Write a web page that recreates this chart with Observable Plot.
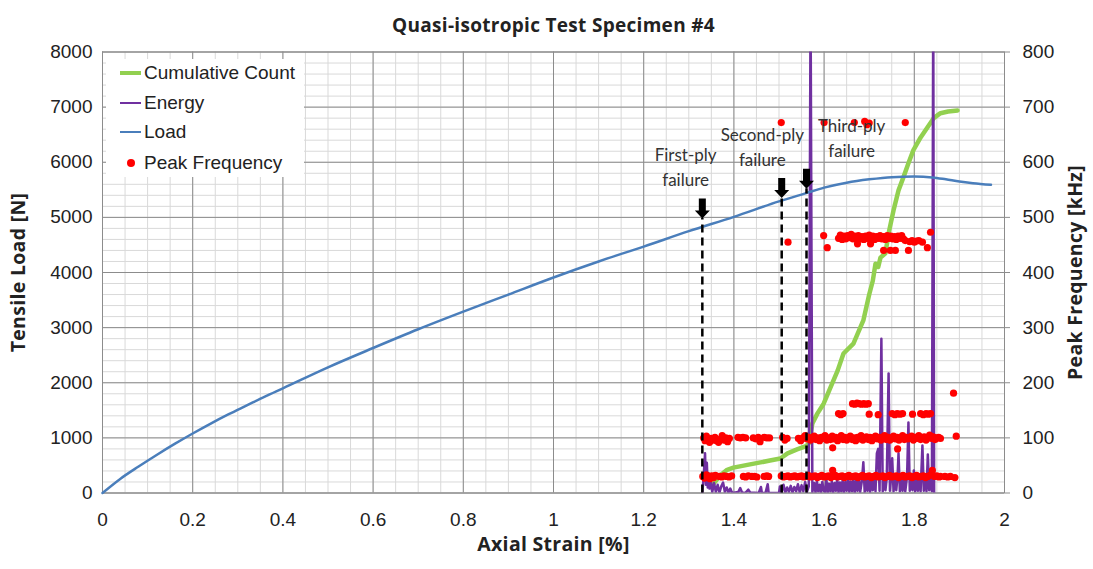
<!DOCTYPE html>
<html><head><meta charset="utf-8">
<script src="https://cdn.jsdelivr.net/npm/d3@7"></script>
<script src="https://cdn.jsdelivr.net/npm/@observablehq/plot@0.6"></script>
<style>
body{margin:0;background:#fff;}
#wrap{position:relative;width:1093px;height:569px;}
#legend{position:absolute;left:106px;top:59px;width:198px;height:118px;background:#fff;font-family:"Liberation Sans",Arial,sans-serif;font-size:19px;color:#222;}
.row{position:absolute;left:0;height:24px;display:flex;align-items:center;white-space:nowrap;}
.sw{width:21px;margin-left:14px;margin-right:3px;position:relative;height:24px;}
.ln{position:absolute;left:0;right:0;top:50%;}
.dt{position:absolute;left:7px;top:50%;width:8px;height:8px;margin-top:-4px;border-radius:50%;background:#ff0000;}
</style>
</head><body>
<div id="wrap"><div id="chart"></div>
<div id="legend"></div></div>
<script>
const title = "Quasi-isotropic Test Specimen #4";
const xLabel = "Axial Strain [%]";
const yLabel = "Tensile Load [N]";
const y2Label = "Peak Frequency [kHz]";
const strainTicks = [0, 0.2, 0.4, 0.6, 0.8, 1, 1.2, 1.4, 1.6, 1.8, 2];
const loadTicks = [0, 1000, 2000, 3000, 4000, 5000, 6000, 7000, 8000];
const freqTicks = [0, 100, 200, 300, 400, 500, 600, 700, 800];

// Load [N] vs strain
const loadCurve = [[0,0],[0.04,260],[0.08,480],[0.12,690],[0.16,890],[0.2,1080],[0.24,1260],[0.28,1430],[0.32,1590],[0.36,1750],[0.4,1900],[0.5,2280],[0.6,2630],[0.7,2970],[0.8,3290],[0.9,3600],[1.0,3910],[1.1,4200],[1.2,4470],[1.3,4750],[1.4,5010],[1.5,5290],[1.56,5440],[1.6,5540],[1.65,5630],[1.7,5690],[1.75,5730],[1.8,5740],[1.84,5725],[1.87,5690],[1.9,5650],[1.93,5620],[1.97,5590]];

// Cumulative count (drawn in load units)
const cumulative = [[1.352,130],[1.355,170],[1.37,320],[1.385,420],[1.399,460],[1.43,510],[1.459,555],[1.48,590],[1.503,625],[1.519,720],[1.54,790],[1.56,850],[1.566,900],[1.574,1260],[1.585,1440],[1.599,1620],[1.614,1910],[1.63,2220],[1.643,2530],[1.665,2710],[1.687,3130],[1.70,3600],[1.708,3850],[1.714,4160],[1.72,4100],[1.725,4270],[1.736,4350],[1.743,4710],[1.754,5130],[1.765,5490],[1.776,5730],[1.787,5980],[1.798,6220],[1.814,6450],[1.829,6630],[1.843,6800],[1.858,6890],[1.875,6920],[1.896,6940]];

// Energy (drawn in load units)
const energy = [[1.330,0],[1.333,300],[1.336,720],[1.338,150],[1.340,550],[1.342,100],[1.344,360],[1.346,80],[1.349,200],[1.352,20],[1.356,180],[1.360,20],[1.364,150],[1.368,10],[1.372,120],[1.376,190],[1.380,20],[1.384,100],[1.388,10],[1.392,80],[1.396,0],[1.410,20],[1.414,90],[1.418,10],[1.425,0],[1.432,60],[1.436,10],[1.455,0],[1.460,110],[1.462,0],[1.470,0],[1.475,160],[1.477,0],[1.500,0],[1.502,120],[1.506,20],[1.510,150],[1.514,10],[1.518,100],[1.522,20],[1.526,130],[1.530,10],[1.534,110],[1.538,30],[1.542,160],[1.546,10],[1.550,140],[1.554,30],[1.558,200],[1.562,20],[1.566,120],[1.570,9000],[1.574,20],[1.578,180],[1.581,10],[1.584,220],[1.587,30],[1.590,150],[1.593,10],[1.596,200],[1.599,40],[1.602,20],[1.605,250],[1.608,10],[1.611,170],[1.614,30],[1.617,210],[1.620,10],[1.623,180],[1.626,40],[1.629,260],[1.632,10],[1.635,190],[1.638,30],[1.641,230],[1.644,10],[1.647,200],[1.650,40],[1.653,270],[1.656,20],[1.659,210],[1.662,30],[1.665,250],[1.668,10],[1.671,220],[1.674,40],[1.677,280],[1.680,20],[1.684,230],[1.687,560],[1.690,20],[1.693,260],[1.696,40],[1.699,300],[1.702,20],[1.705,270],[1.708,50],[1.711,320],[1.714,30],[1.717,720],[1.720,800],[1.723,40],[1.727,2800],[1.730,30],[1.733,300],[1.736,50],[1.739,280],[1.743,2170],[1.746,40],[1.749,330],[1.751,630],[1.754,30],[1.757,300],[1.760,50],[1.763,320],[1.765,720],[1.768,30],[1.771,300],[1.774,40],[1.777,340],[1.780,30],[1.784,300],[1.787,1280],[1.790,40],[1.793,310],[1.796,50],[1.799,410],[1.802,30],[1.805,300],[1.808,40],[1.811,330],[1.814,30],[1.818,860],[1.821,40],[1.824,330],[1.827,30],[1.830,700],[1.833,50],[1.836,260],[1.839,30],[1.842,9000],[1.844,0]];

// Peak frequency [kHz]
const freqBand100 = [[1.333,100],[1.336,95],[1.339,103],[1.342,97],[1.346,92],[1.350,99],[1.354,96],[1.358,101],[1.362,95],[1.366,92],[1.370,98],[1.374,104],[1.378,96],[1.382,100],[1.386,93],[1.390,99],[1.409,101],[1.414,100],[1.420,101],[1.426,100],[1.443,100],[1.449,98],[1.454,101],[1.458,93],[1.467,101],[1.473,100],[1.479,100],[1.508,101],[1.513,96],[1.518,99],[1.543,99],[1.548,95],[1.553,100],[1.558,104],[1.562,98],[1.566,101],[1.570,96],[1.574,100],[1.578,103],[1.582,97],[1.586,100],[1.590,95],[1.594,101],[1.598,99],[1.602,104],[1.606,96],[1.610,100],[1.614,97],[1.618,103],[1.619,82],[1.622,98],[1.626,101],[1.630,95],[1.634,100],[1.638,104],[1.642,97],[1.646,101],[1.650,96],[1.654,100],[1.658,103],[1.662,97],[1.666,100],[1.670,95],[1.674,101],[1.678,98],[1.682,104],[1.686,96],[1.690,100],[1.694,102],[1.698,97],[1.702,101],[1.706,95],[1.710,100],[1.714,103],[1.718,98],[1.722,101],[1.726,96],[1.730,100],[1.734,104],[1.738,97],[1.742,101],[1.746,96],[1.750,100],[1.754,103],[1.758,98],[1.762,101],[1.763,80],[1.766,96],[1.770,100],[1.774,104],[1.778,97],[1.782,101],[1.786,98],[1.790,100],[1.794,103],[1.798,96],[1.802,101],[1.806,99],[1.810,104],[1.814,97],[1.818,100],[1.822,102],[1.826,96],[1.830,101],[1.834,105],[1.838,99],[1.842,102],[1.846,97],[1.850,100],[1.854,101],[1.858,99],[1.893,103]];
const freqBand30 = [[1.331,30],[1.335,27],[1.339,33],[1.343,29],[1.347,26],[1.351,31],[1.355,28],[1.359,32],[1.368,30],[1.373,29],[1.378,31],[1.384,30],[1.389,29],[1.395,31],[1.421,30],[1.426,29],[1.432,31],[1.440,30],[1.446,30],[1.451,29],[1.467,30],[1.473,31],[1.477,30],[1.505,31],[1.510,29],[1.515,30],[1.520,31],[1.525,29],[1.530,30],[1.535,31],[1.540,29],[1.545,30],[1.550,31],[1.555,29],[1.560,30],[1.565,32],[1.570,29],[1.575,30],[1.580,31],[1.585,28],[1.590,30],[1.595,32],[1.600,29],[1.605,30],[1.610,31],[1.615,28],[1.619,41],[1.620,30],[1.625,32],[1.630,29],[1.635,30],[1.640,31],[1.645,28],[1.650,30],[1.655,32],[1.660,29],[1.665,30],[1.670,31],[1.675,28],[1.680,30],[1.685,32],[1.690,29],[1.695,30],[1.700,31],[1.705,28],[1.710,30],[1.715,32],[1.720,29],[1.725,30],[1.730,31],[1.735,28],[1.740,30],[1.745,32],[1.750,29],[1.755,30],[1.760,31],[1.765,28],[1.770,30],[1.775,32],[1.780,29],[1.785,30],[1.790,31],[1.795,28],[1.800,30],[1.805,32],[1.810,29],[1.815,30],[1.820,31],[1.825,28],[1.830,30],[1.835,32],[1.840,41],[1.845,30],[1.850,31],[1.855,29],[1.858,30],[1.868,30],[1.874,29],[1.880,30],[1.890,28]];
const freqBand460 = [[1.599,467],[1.607,445],[1.632,462],[1.636,468],[1.640,460],[1.644,466],[1.648,461],[1.652,467],[1.656,463],[1.660,469],[1.664,461],[1.668,466],[1.672,462],[1.674,452],[1.676,467],[1.680,461],[1.684,465],[1.688,460],[1.692,466],[1.696,462],[1.700,468],[1.703,452],[1.704,461],[1.708,466],[1.712,460],[1.716,465],[1.720,462],[1.724,467],[1.728,461],[1.732,440],[1.732,465],[1.736,460],[1.740,467],[1.744,462],[1.747,440],[1.748,466],[1.752,461],[1.756,465],[1.758,440],[1.760,460],[1.764,466],[1.768,462],[1.772,467],[1.776,461],[1.780,458],[1.787,440],[1.790,456],[1.795,458],[1.800,455],[1.805,457],[1.810,458],[1.818,455],[1.829,445],[1.836,473]];
const freqBand150 = [[1.632,144],[1.637,142],[1.642,144],[1.663,162],[1.668,161],[1.673,163],[1.678,162],[1.683,161],[1.688,162],[1.693,161],[1.698,162],[1.700,143],[1.720,142],[1.751,144],[1.757,142],[1.762,144],[1.768,143],[1.774,144],[1.796,143],[1.814,144],[1.820,142],[1.826,144],[1.831,143],[1.836,144],[1.887,181]];
const freqHigh = [[1.505,672],[1.520,455],[1.600,672],[1.667,672],[1.690,674],[1.695,668],[1.700,671],[1.780,672]];

// Ply failure annotations
const plyStrain = [1.33, 1.506, 1.561];
const plyLoad = [4980, 5350, 5520];
const plyLabel = ["First-ply\nfailure", "Second-ply\nfailure", "Third-ply\nfailure"];
const plyLabelStrain = [1.293, 1.463, 1.661];
const plyLabelLoad = [5944, 6307, 6470];

const legendItems = [
  {name: "Cumulative Count", color: "#92d050", kind: "line", width: 4},
  {name: "Energy", color: "#7030a0", kind: "line", width: 2},
  {name: "Load", color: "#4a7ebb", kind: "line", width: 2.5},
  {name: "Peak Frequency", color: "#ff0000", kind: "dot"}
];

const peaks = [...freqBand100, ...freqBand30, ...freqBand460, ...freqBand150, ...freqHigh];
const plies = plyStrain.map((s, i) => ({strain: s, load: plyLoad[i], label: plyLabel[i], lx: plyLabelStrain[i], ly: plyLabelLoad[i]}));

const blockArrow = {
  draw(context, l) {
    const hw = 3.5, aw = 7.5, ah = 8;
    context.moveTo(-hw, 0);
    context.lineTo(-hw, -l + ah);
    context.lineTo(-aw, -l + ah);
    context.lineTo(0, -l);
    context.lineTo(aw, -l + ah);
    context.lineTo(hw, -l + ah);
    context.lineTo(hw, 0);
    context.closePath();
  }
};

const major = "#8c8c8c", minor = "#d9d9d9";
const labelFont = "'Open Sans', Lato, sans-serif";
const noteFont = "Lato, 'Open Sans', sans-serif";

const chart = Plot.plot({
  width: 1093, height: 569,
  marginLeft: 102, marginRight: 89, marginTop: 51.5, marginBottom: 76.5,
  x: {domain: [0, 2]},
  y: {domain: [0, 8000]},
  style: {fontFamily: "'Liberation Sans', Arial, sans-serif", fontSize: "19px", color: "#222", background: "white"},
  marks: [
    Plot.gridX({ticks: 50, stroke: minor, strokeOpacity: 1}),
    Plot.gridY({ticks: 40, stroke: minor, strokeOpacity: 1}),
    Plot.gridX(strainTicks, {stroke: major, strokeOpacity: 1}),
    Plot.gridY(loadTicks, {stroke: major, strokeOpacity: 1}),
    Plot.frame({stroke: major}),
    Plot.axisX(strainTicks, {tickSize: 0, tickPadding: 19, tickFormat: d3.format("~g"), label: null}),
    Plot.axisY(loadTicks, {anchor: "left", tickSize: 0, tickPadding: 10, tickFormat: d => String(d), label: null}),
    Plot.axisY(freqTicks.map(f => f * 10), {anchor: "right", tickSize: 5, stroke: major, tickPadding: 13, tickFormat: d => String(d / 10), label: null}),
    Plot.line(cumulative, {x: d => d[0], y: d => d[1], stroke: "#92d050", strokeWidth: 4.5}),
    Plot.line(energy, {x: d => d[0], y: d => d[1], stroke: "#7030a0", strokeWidth: 2.5, clip: true}),
    Plot.line(loadCurve, {x: d => d[0], y: d => d[1], stroke: "#4a7ebb", strokeWidth: 2.5, curve: "monotone-x"}),
    Plot.dot(peaks, {x: d => d[0], y: d => d[1] * 10, r: 3.6, fill: "#ff0000"}),
    Plot.ruleX(plies, {x: "strain", y1: 0, y2: "load", stroke: "black", strokeWidth: 2.5, strokeDasharray: "8,5"}),
    Plot.vector(plies, {x: "strain", y: "load", length: 20, rotate: 180, anchor: "end", shape: blockArrow, fill: "black", stroke: "none"}),
    Plot.text(plies, {x: "lx", y: "ly", text: "label", fontFamily: noteFont, fontSize: 17, lineHeight: 1.45, fill: "#333"}),
    Plot.text([title], {frameAnchor: "top", dy: -34, fontFamily: labelFont, fontWeight: "bold", fontSize: 19, fill: "#222"}),
    Plot.text([xLabel], {frameAnchor: "bottom", dy: 58, fontFamily: labelFont, fontWeight: "bold", fontSize: 19.5, fill: "#222"}),
    Plot.text([yLabel], {frameAnchor: "left", textAnchor: "middle", dx: -84, rotate: -90, fontFamily: labelFont, fontWeight: "bold", fontSize: 19.5, fill: "#222"}),
    Plot.text([y2Label], {frameAnchor: "right", textAnchor: "middle", dx: 71, rotate: -90, fontFamily: labelFont, fontWeight: "bold", fontSize: 19.5, fill: "#222"})
  ]
});
chart.querySelectorAll("text").forEach(t => {
  const g = t.closest("g");
  if (g && g.getAttribute("font-weight") === "bold") t.style.letterSpacing = "0.3px";
});
document.getElementById("chart").appendChild(chart);

const legend = document.getElementById("legend");
const rowTops = [14, 44, 73, 104];
legendItems.forEach((it, i) => {
  const row = document.createElement("div");
  row.className = "row";
  row.style.top = (rowTops[i] - 12) + "px";
  const sw = document.createElement("div");
  sw.className = "sw";
  if (it.kind === "line") {
    const ln = document.createElement("div");
    ln.className = "ln";
    ln.style.height = it.width + "px";
    ln.style.marginTop = (-it.width / 2) + "px";
    ln.style.background = it.color;
    sw.appendChild(ln);
  } else {
    const dt = document.createElement("div");
    dt.className = "dt";
    sw.appendChild(dt);
  }
  row.appendChild(sw);
  const tx = document.createElement("span");
  tx.textContent = it.name;
  row.appendChild(tx);
  legend.appendChild(row);
});
</script>
</body></html>
